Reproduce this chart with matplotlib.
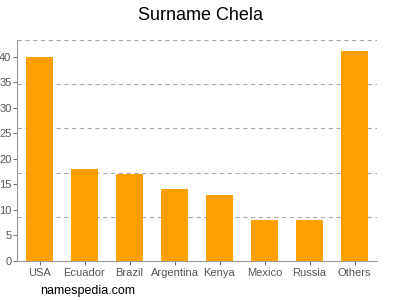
import numpy as np
import matplotlib
matplotlib.use("Agg")
import matplotlib.pyplot as plt

countries = ["USA", "Ecuador", "Brazil", "Argentina", "Kenya", "Mexico", "Russia", "Others"]
counts = [40, 18, 17, 14, 13, 8, 8, 41]
yticks = [0, 5, 10, 15, 20, 25, 30, 35, 40]

plt.rcParams['font.family'] = ['Liberation Sans', 'DejaVu Sans']

fig = plt.figure(figsize=(4, 3), dpi=100)
ax = fig.add_axes([0.0425, 0.13, 0.9, 0.737])

x = np.arange(len(countries))
ax.bar(x, counts, width=0.62, color="#ffa000", zorder=3)

ymax = max(counts) * 1.055
ax.set_ylim(0, ymax)
ax.set_xlim(-0.5, len(countries) - 0.5)

ax.set_yticks(yticks)
ax.set_yticks(np.linspace(0, ymax, 6)[1:], minor=True)
ax.yaxis.grid(True, which="minor", linestyle=(0, (4, 3)), color="#aaaaaa", linewidth=0.8)
ax.tick_params(axis="y", which="minor", length=0)
ax.tick_params(axis="both", which="major", colors="#555555", labelsize=8, length=3, width=0.6)
ax.tick_params(axis="x", pad=2)
ax.tick_params(axis="y", pad=1)
ax.set_xticks(x)
ax.set_xticklabels(countries)

for s in ["top", "right"]:
    ax.spines[s].set_visible(False)
for s in ["left", "bottom"]:
    ax.spines[s].set_color("#999999")
    ax.spines[s].set_linewidth(0.8)

fig.text(0.5, 0.95, "Surname Chela", ha="center", va="center", fontsize=13)
fig.text(0.1, 0.03, "namespedia.com", ha="left", va="center", fontsize=9)

fig.savefig("out.png", dpi=100)
